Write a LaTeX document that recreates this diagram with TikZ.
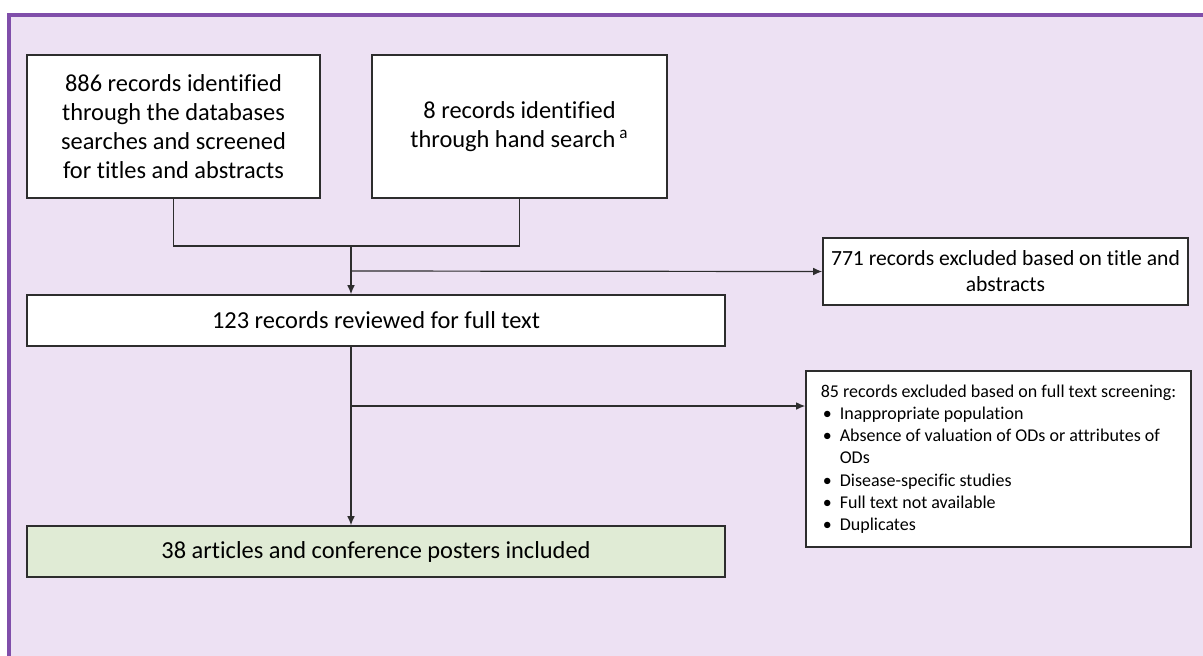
\documentclass[tikz,border=0pt]{standalone}
\usepackage{fontspec}
\setmainfont{Carlito}[Ligatures=CommonOff]
\usetikzlibrary{arrows.meta}
\definecolor{framefill}{RGB}{237,225,243}
\definecolor{framepurple}{RGB}{128,78,170}
\definecolor{incgreen}{RGB}{224,235,213}
\definecolor{boxline}{RGB}{45,45,45}
\tikzset{flowbox/.style={draw=boxline, line width=0.8pt, fill=white, inner sep=2pt, align=center,
                         font=\fontsize{12.2}{14.5}\selectfont},
         link/.style={draw=boxline, line width=0.6pt},
         linkarrow/.style={link, -{Latex[length=4.5pt,width=3.8pt]}}}
\newcommand{\bulitem}{\makebox[9.5pt][l]{\hspace{1pt}\small\textbullet}}

\begin{document}
\begin{tikzpicture}[x=0.5pt,y=-0.5pt]
   \useasboundingbox (0,0) rectangle (1203,655);
   % background frame, cut off at the right and bottom
   \begin{scope}
    \clip (0,0) rectangle (1203,655);
    \draw[framepurple, line width=2pt, fill=framefill] (8.5,15) rectangle (1240,690);
   \end{scope}

   % identification
   \node[flowbox, minimum width=146.5pt, minimum height=71.5pt] (dbsearch) at (173.5,126.5)
        {886 records identified\\through the databases\\searches and screened\\for titles and abstracts};
   \node[flowbox, minimum width=147.5pt, minimum height=71.5pt] (handsearch) at (519.5,126.5)
        {8 records identified\\through hand search\,\textsuperscript{a}};

   % screening
   \node[flowbox, minimum width=349pt, minimum height=25.5pt] (fulltext) at (376,320.5)
        {123 records reviewed for full text};
   \node[flowbox, minimum width=182.5pt, minimum height=33.5pt, font=\fontsize{10.8}{13}\selectfont] (exctitle) at (1005.5,271.5)
        {771 records excluded based on title and\\abstracts};
   \node[flowbox, minimum width=192.5pt, minimum height=88pt, align=left,
         font=\fontsize{9}{11.1}\selectfont] (excfull) at (998.5,459)
        {85 records excluded based on full text screening:\\
         \bulitem Inappropriate population\\
         \bulitem Absence of valuation of ODs or attributes of\\
         \hspace*{9.5pt}ODs\\
         \bulitem Disease-specific studies\\
         \bulitem Full text not available\\
         \bulitem Duplicates};

   % included
   \node[flowbox, fill=incgreen, minimum width=349pt, minimum height=25.5pt] (included) at (376,551.5)
        {38 articles and conference posters included};

   % connectors
   \coordinate (merge) at (351,246);
   \coordinate (split1) at (351,271);
   \coordinate (split2) at (351,406);
   \draw[link] (dbsearch.south) |- (merge) -| (handsearch.south);
   \draw[linkarrow] (merge) -- (merge |- fulltext.north);
   \draw[linkarrow] (split1) -- (exctitle.west);
   \draw[linkarrow] (fulltext.south -| split2) -- (split2 |- included.north);
   \draw[linkarrow] (split2) -- (split2 -| excfull.west);
\end{tikzpicture}
\end{document}
